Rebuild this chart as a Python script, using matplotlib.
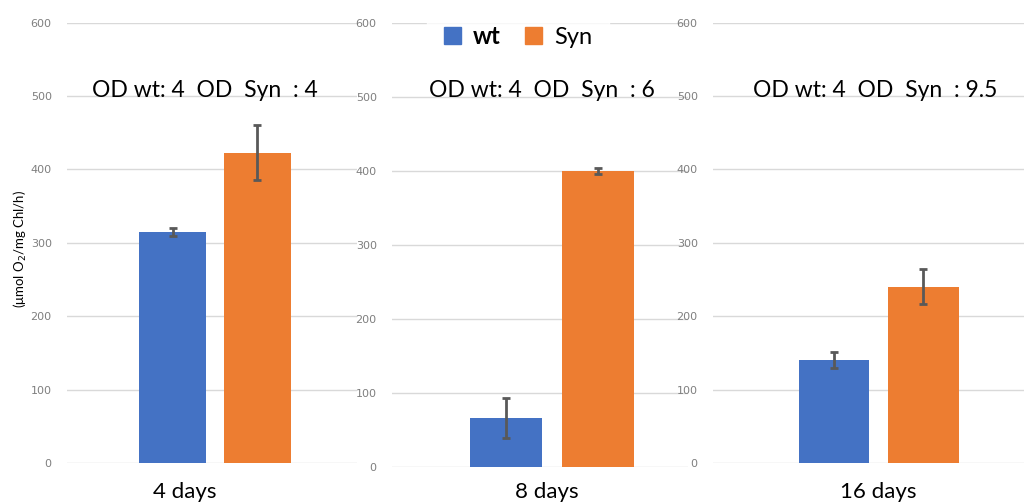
import matplotlib.pyplot as plt
from matplotlib.patches import Patch

# data
days = ["4 days", "8 days", "16 days"]
groups = ["wt", "Syn"]
wt_vals = [315, 66, 140]
wt_err = [5, 27, 11]
syn_vals = [423, 400, 240]
syn_err = [37, 4, 24]
od_syn = ["4", "6", "9.5"]

blue = "#4472C4"
orange = "#ED7D31"
W, H = 1024, 504

fig = plt.figure(figsize=(10.24, 5.04), dpi=100)
plt.rcParams['font.family'] = ['Lato', 'DejaVu Sans']

# panel boxes in pixels: left, right, bottom, top, xlim, bar width
panels = [
    (67, 357, 463, 22.7, (-1.248, 2.18), 0.79),
    (392, 688, 467, 23.3, (-1.239, 1.978), 0.78),
    (713, 1024, 463, 22.7, (-1.36, 2.13), 0.79),
]
title_x = [205, 542, 875]
day_x = [185, 547, 878]

for i, (l, r, b, t, xl, bw) in enumerate(panels):
    ax = fig.add_axes([l / W, (H - b) / H, (r - l) / W, (b - t) / H])
    ax.bar(0, wt_vals[i], width=bw, color=blue, zorder=2)
    ax.bar(1, syn_vals[i], width=bw, color=orange, zorder=2)
    ax.errorbar([0, 1], [wt_vals[i], syn_vals[i]], yerr=[wt_err[i], syn_err[i]],
                fmt="none", ecolor="#595959", elinewidth=2, capsize=3, capthick=2, zorder=3)
    ax.set_ylim(0, 600)
    ax.set_xlim(*xl)
    ax.set_yticks(range(0, 601, 100))
    ax.set_xticks([])
    ax.grid(axis="y", color="#D9D9D9", lw=1, zorder=0)
    for s in ax.spines.values():
        s.set_visible(False)
    ax.tick_params(axis="y", length=0, labelsize=8, labelcolor="#7F7F7F", pad=11)
    for lab in ax.get_yticklabels():
        lab.set_family("DejaVu Sans")
    fig.text(title_x[i] / W, (H - 97) / H, "OD wt: 4  OD  Syn  : " + od_syn[i],
             ha="center", va="baseline", fontsize=16.5, color="black")
    fig.text(day_x[i] / W, (H - 498) / H, days[i], ha="center", va="baseline",
             fontsize=16, color="black")

fig.text(20 / W, 255 / H, "(μmol O$_2$/mg Chl/h)", rotation=90, ha="center", va="center",
         fontsize=9.5)

handles = [Patch(color=blue), Patch(color=orange)]
leg = fig.legend(handles, groups, loc="center", bbox_to_anchor=(518 / W, (H - 36) / H),
                 ncol=2, frameon=True, fontsize=17, handlelength=0.75, handleheight=0.75,
                 columnspacing=1.0, handletextpad=0.5, borderpad=0.7)
leg.get_frame().set_facecolor("white")
leg.get_frame().set_edgecolor("white")
leg.get_texts()[0].set_fontweight("bold")

fig.savefig("out.png", dpi=100)
